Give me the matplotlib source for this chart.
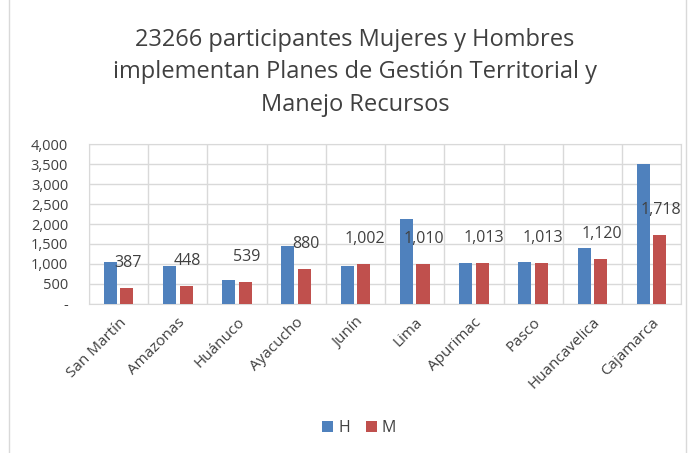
import numpy as np
import matplotlib
matplotlib.use("Agg")
import matplotlib.pyplot as plt
from matplotlib.patches import Rectangle

regions = ["San Martín", "Amazonas", "Huánuco", "Ayacucho", "Junín", "Lima",
           "Apurimac", "Pasco", "Huancavelica", "Cajamarca"]
hombres = [1060, 955, 600, 1450, 960, 2130, 1013, 1050, 1405, 3500]
mujeres = [387, 448, 539, 880, 1002, 1010, 1013, 1013, 1120, 1718]
yticks = [0, 500, 1000, 1500, 2000, 2500, 3000, 3500, 4000]

plt.rcParams['font.family'] = ['Open Sans', 'DejaVu Sans']
txt = '#404040'
grid = '#d9d9d9'

fig = plt.figure(figsize=(6.91, 4.53), dpi=100)
ax = fig.add_axes([0.1288, 0.329, 0.857, 0.353])

x = np.arange(len(regions))
w = 0.22
ax.bar(x - 0.14, hombres, w, color='#4f81bd', label='H', zorder=3)
ax.bar(x + 0.14, mujeres, w, color='#c0504d', label='M', zorder=3)

for xi, v in zip(x, mujeres):
    ax.annotate(f"{v:,}", (xi + 0.16, v), xytext=(0, 18), textcoords='offset points',
                ha='center', va='center', fontsize=11.5, color=txt, zorder=4)

ax.set_xlim(-0.5, len(regions) - 0.5)
ax.set_ylim(0, 4000)
ax.set_yticks(yticks)
ax.set_yticklabels(['-' if t == 0 else f"{t:,}" for t in yticks], fontsize=10.5, color=txt)
ax.set_xticks(x)
ax.set_xticklabels(regions, rotation=45, ha='right', rotation_mode='anchor',
                   fontsize=11, color=txt)
ax.tick_params(length=0, pad=8)
ax.tick_params(axis='y', pad=15)

ax.grid(axis='y', color=grid, lw=1, zorder=0)
ax.set_xticks(np.arange(-0.5, len(regions)), minor=True)
ax.grid(axis='x', which='minor', color=grid, lw=1, zorder=0)
ax.tick_params(which='minor', length=0)
for s in ax.spines.values():
    s.set_color(grid)

fig.text(0.514, 0.84, "23266 participantes Mujeres y Hombres\nimplementan Planes de Gestión Territorial y\nManejo Recursos",
         ha='center', va='center', fontsize=17, color=txt, linespacing=1.45)

fig.legend(loc='center', bbox_to_anchor=(0.52, 0.055), ncol=2, frameon=False,
           fontsize=11.5, handlelength=0.7, handleheight=0.7, handletextpad=0.3,
           columnspacing=1.0, labelcolor=txt)

fig.patches.append(Rectangle((0.013, -0.01), 0.98, 1.2, transform=fig.transFigure,
                             fill=False, edgecolor=grid, lw=1))

fig.savefig("out.png", dpi=100)
